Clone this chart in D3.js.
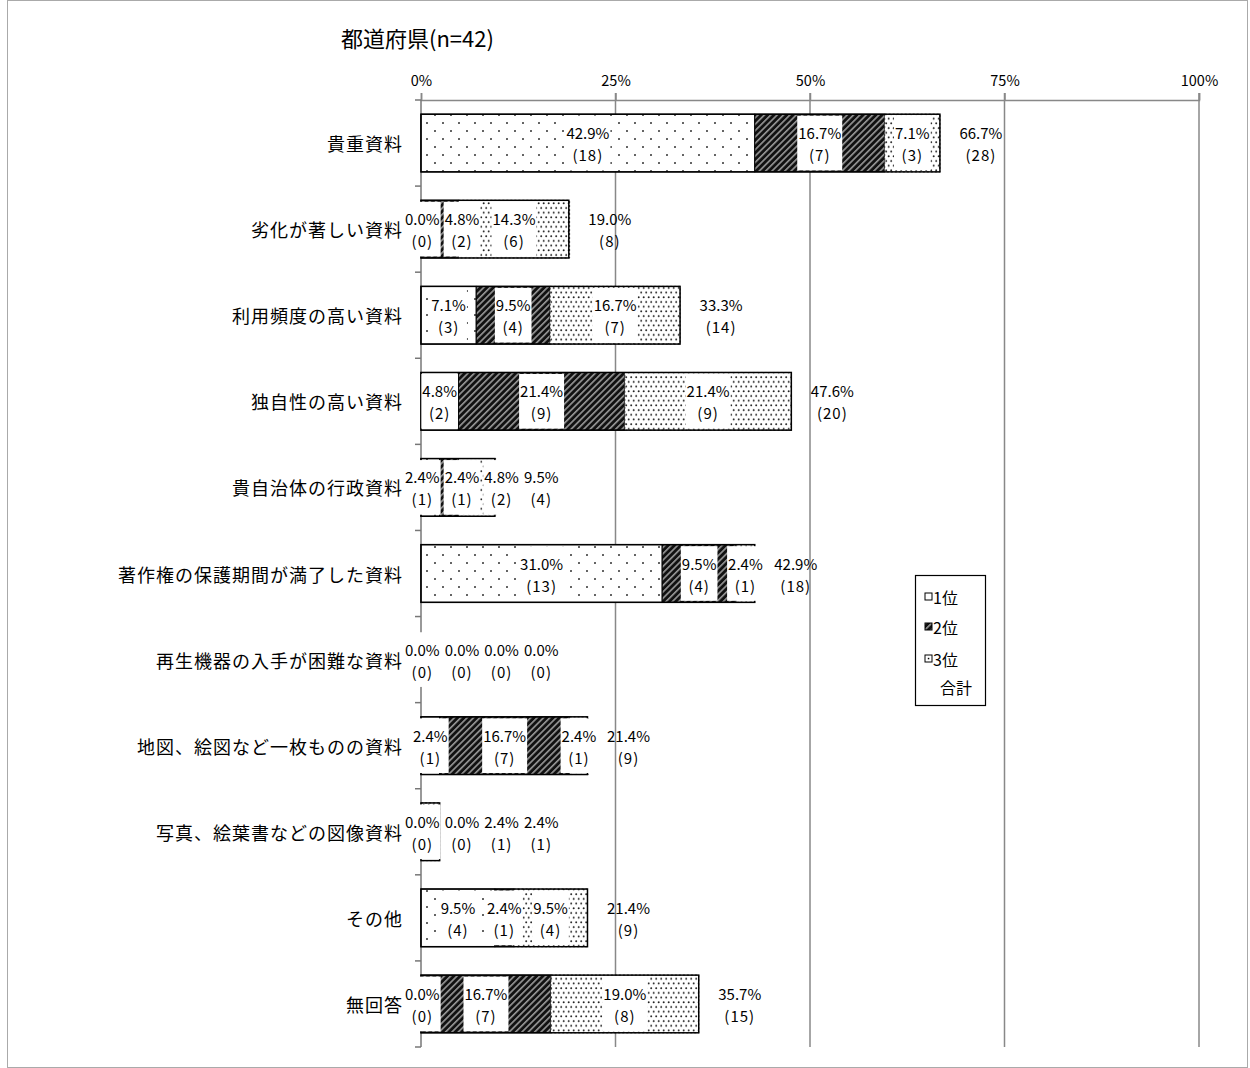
<!DOCTYPE html>
<html>
<head>
<meta charset="utf-8">
<title>都道府県(n=42)</title>
<style>
  body { margin: 0; background: #fff; }
  svg text { font-family: "Noto Sans CJK JP", "Noto Sans", sans-serif; fill: #000; }
  .grid line { stroke: #888; stroke-width: 1.5px; }
  .lbl { font-size: 15px; }
  .cnt { letter-spacing: 1px; }
</style>
<script src="https://cdn.jsdelivr.net/npm/d3@7"></script>
</head>
<body>
<script>
var categories = ["貴重資料", "劣化が著しい資料", "利用頻度の高い資料", "独自性の高い資料",
  "貴自治体の行政資料", "著作権の保護期間が満了した資料", "再生機器の入手が困難な資料",
  "地図、絵図など一枚ものの資料", "写真、絵葉書などの図像資料", "その他", "無回答"];
var rank1Pct = [42.9, 0.0, 7.1, 4.8, 2.4, 31.0, 0.0, 2.4, 0.0, 9.5, 0.0];
var rank1N   = [18, 0, 3, 2, 1, 13, 0, 1, 0, 4, 0];
var rank2Pct = [16.7, 4.8, 9.5, 21.4, 2.4, 9.5, 0.0, 16.7, 0.0, 2.4, 16.7];
var rank2N   = [7, 2, 4, 9, 1, 4, 0, 7, 0, 1, 7];
var rank3Pct = [7.1, 14.3, 16.7, 21.4, 4.8, 2.4, 0.0, 2.4, 2.4, 9.5, 19.0];
var rank3N   = [3, 6, 7, 9, 2, 1, 0, 1, 1, 4, 8];
var totalPct = [66.7, 19.0, 33.3, 47.6, 9.5, 42.9, 0.0, 21.4, 2.4, 21.4, 35.7];
var totalN   = [28, 8, 14, 20, 4, 18, 0, 9, 1, 9, 15];
var seriesNames = ["1位", "2位", "3位", "合計"];
var xTicks = [0, 25, 50, 75, 100];

var W = 1250, H = 1068;
var svg = d3.select("body").append("svg").attr("width", W).attr("height", H);

// patterns
var defs = svg.append("defs");
var p1 = defs.append("pattern").attr("id", "pat1").attr("patternUnits", "userSpaceOnUse")
  .attr("width", 16).attr("height", 16);
p1.append("rect").attr("width", 16).attr("height", 16).attr("fill", "#fff");
p1.append("circle").attr("cx", 3).attr("cy", 3).attr("r", 0.95).attr("fill", "#222");
p1.append("circle").attr("cx", 11).attr("cy", 11).attr("r", 0.95).attr("fill", "#222");

var p2 = defs.append("pattern").attr("id", "pat2").attr("patternUnits", "userSpaceOnUse")
  .attr("width", 4.5).attr("height", 4.5).attr("patternTransform", "rotate(45)");
p2.append("rect").attr("width", 4.5).attr("height", 4.5).attr("fill", "#111");
p2.append("rect").attr("width", 1.6).attr("height", 4.5).attr("fill", "#999");

var p3 = defs.append("pattern").attr("id", "pat3").attr("patternUnits", "userSpaceOnUse")
  .attr("width", 5).attr("height", 9.4);
p3.append("rect").attr("width", 5).attr("height", 9.4).attr("fill", "#fff");
p3.append("circle").attr("cx", 1.2).attr("cy", 1.2).attr("r", 1).attr("fill", "#222");
p3.append("circle").attr("cx", 3.7).attr("cy", 5.9).attr("r", 1).attr("fill", "#222");

var fills = ["url(#pat1)", "url(#pat2)", "url(#pat3)"];

// outer frame
svg.append("rect").attr("x", 7.5).attr("y", 0.5).attr("width", 1240).attr("height", 1067)
  .attr("fill", "none").attr("stroke", "#aaa");

// title
svg.append("text").attr("x", 341).attr("y", 47).style("font-size", "22px").text("都道府県(n=42)");

var x = d3.scaleLinear().domain([0, 100]).range([421, 1199]);
var y = d3.scaleBand().domain(categories).range([100, 1047]).paddingInner(0.33).paddingOuter(0.165);
var bandStep = y.step();

// gridlines
svg.append("g").attr("class", "grid").selectAll("line")
  .data(xTicks.slice(1)).enter().append("line")
  .attr("x1", function(d) { return x(d); }).attr("x2", function(d) { return x(d); })
  .attr("y1", 93).attr("y2", 1047);

// top axis
var xAxis = svg.append("g").attr("transform", "translate(0,100)")
  .call(d3.axisTop(x).tickValues(xTicks).tickSize(7).tickPadding(7)
    .tickFormat(function(d) { return d + "%"; }));
xAxis.select(".domain").attr("stroke", "#888").attr("stroke-width", 1.5);
xAxis.selectAll(".tick line").attr("stroke", "#888").attr("stroke-width", 1.5);
xAxis.selectAll("text").style("font-size", "14.5px").attr("font-family", null);

// left axis with ticks at band boundaries
var bounds = d3.range(categories.length + 1).map(function(i) { return 100 + i * bandStep; });
svg.append("line").attr("x1", x(0)).attr("x2", x(0)).attr("y1", 100).attr("y2", 1047)
  .attr("stroke", "#777").attr("stroke-width", 1.5);
svg.append("g").selectAll("line").data(bounds).enter().append("line")
  .attr("x1", x(0) - 6).attr("x2", x(0))
  .attr("y1", function(d) { return d; }).attr("y2", function(d) { return d; })
  .attr("stroke", "#777").attr("stroke-width", 1.5);

// category labels
svg.append("g").selectAll("text").data(categories).enter().append("text")
  .attr("x", 403).attr("y", function(d) { return y(d) + y.bandwidth() / 2; })
  .attr("text-anchor", "end").attr("dominant-baseline", "central")
  .style("font-size", "18px").style("letter-spacing", "1px")
  .text(function(d) { return d; });

// stacked bars
var pcts = [rank1Pct, rank2Pct, rank3Pct];
var counts = [rank1N, rank2N, rank3N];
var bars = svg.append("g");
categories.forEach(function(c, i) {
  var acc = 0;
  for (var s = 0; s < 3; s++) {
    var v = pcts[s][i];
    if (v > 0) {
      bars.append("rect")
        .attr("x", x(acc)).attr("y", y(c))
        .attr("width", x(acc + v) - x(acc)).attr("height", y.bandwidth())
        .attr("fill", fills[s])
        .attr("stroke", s == 2 ? "#333" : "#000").attr("stroke-width", 1)
        .attr("stroke-dasharray", s == 2 ? "2,2" : null);
    }
    acc += v;
  }
  // 合計 outline
  if (totalPct[i] > 0) {
    bars.append("rect")
      .attr("x", x(0)).attr("y", y(c))
      .attr("width", x(totalPct[i]) - x(0)).attr("height", y.bandwidth())
      .attr("fill", "none").attr("stroke", "#000").attr("stroke-width", 1.5);
  }
});

// data labels
var labels = svg.append("g");
var minLeft = 404, gap = 3;
categories.forEach(function(c, i) {
  var cy = y(c) + y.bandwidth() / 2;
  var items = [];
  var acc = 0;
  for (var s = 0; s < 4; s++) {
    var p, n, cx;
    if (s < 3) {
      p = pcts[s][i]; n = counts[s][i];
      cx = x(acc + p / 2); acc += p;
    } else {
      p = totalPct[i]; n = totalN[i];
      cx = x(p) + 41;
    }
    var g = labels.append("g");
    var box = g.append("rect").attr("fill", "#fff");
    var t1 = g.append("text").attr("class", "lbl").attr("text-anchor", "middle")
      .attr("y", cy - 4).text(p.toFixed(1) + "%");
    var t2 = g.append("text").attr("class", "lbl cnt").attr("text-anchor", "middle")
      .attr("y", cy + 18).text("(" + n + ")");
    var w = Math.max(t1.node().getComputedTextLength(), t2.node().getComputedTextLength()) + 2;
    items.push({ g: g, box: box, t1: t1, t2: t2, cx: cx, w: w, fixed: s == 3, isTotal: s == 3 });
  }
  // spread overlapping labels, never left of the category text
  for (var k = 0; k < 200; k++) {
    for (var j = 0; j < items.length - 1; j++) {
      var a = items[j], b = items[j + 1];
      var ov = (a.cx + a.w / 2 + gap) - (b.cx - b.w / 2);
      if (ov > 0.01) {
        if (b.fixed) { a.cx -= ov; }
        else { a.cx -= ov / 2; b.cx += ov / 2; }
      }
    }
    if (items[0].cx - items[0].w / 2 < minLeft) items[0].cx = minLeft + items[0].w / 2;
    for (var j2 = 1; j2 < items.length; j2++) {
      var pa = items[j2 - 1], pb = items[j2];
      var lim = pa.cx + pa.w / 2 + gap + pb.w / 2;
      if (pb.cx < lim) pb.cx = lim;
    }
  }
  items.forEach(function(it) {
    it.t1.attr("x", it.cx);
    it.t2.attr("x", it.cx);
    if (!it.isTotal) {
      it.box.attr("x", it.cx - it.w / 2).attr("y", y(c) + 1.5)
        .attr("width", it.w).attr("height", y.bandwidth() - 3);
    } else {
      it.box.remove();
    }
  });
});

// legend
var lg = svg.append("g").attr("transform", "translate(915,575)");
lg.append("rect").attr("x", 0.5).attr("y", 0.5).attr("width", 70).attr("height", 130)
  .attr("fill", "#fff").attr("stroke", "#000").attr("stroke-width", 1.2);
var legendY = [22, 52, 84, 112];
seriesNames.forEach(function(name, s) {
  if (s < 3) {
    lg.append("rect").attr("x", 10).attr("y", legendY[s] - 4).attr("width", 7).attr("height", 7)
      .attr("fill", s == 1 ? "url(#pat2)" : "#fff")
      .attr("stroke", "#000").attr("stroke-width", 1);
    if (s == 2) {
      lg.append("rect").attr("x", 12.8).attr("y", legendY[s] - 1.2).attr("width", 1.5).attr("height", 1.5).attr("fill", "#000");
    }
  }
  lg.append("text").attr("x", s < 3 ? 18 : 25).attr("y", legendY[s])
    .attr("dominant-baseline", "central").style("font-size", "16px").text(name);
});
</script>
</body>
</html>
